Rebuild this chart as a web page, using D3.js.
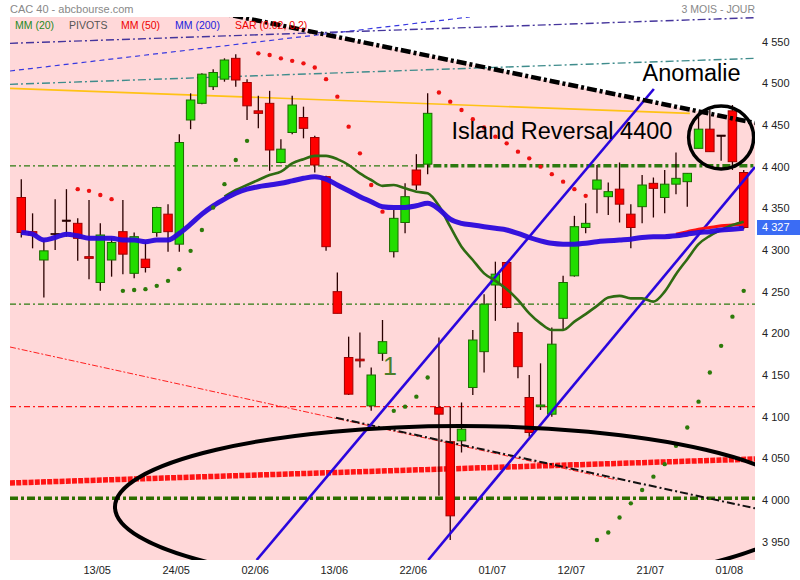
<!DOCTYPE html>
<html><head><meta charset="utf-8">
<script src="https://cdn.jsdelivr.net/npm/d3@7"></script>
<style>body{margin:0;background:#fff;} svg{display:block;font-family:"Liberation Sans",Arial,sans-serif;}</style>
</head><body><svg id="c" width="800" height="580"></svg>
<script>
// ---------- DATA ----------
const opens  = [4363,4322,4288,4320,4336,4332,4292,4261,4288,4322,4272,4289,4321,4343,4307,4456,4476,4496,4505,4530,4501,4467,4476,4405,4441,4459,4435,4388,4250,4171,4169,4113,4176,4298,4333,4396,4403,4111,4070,4071,4135,4178,4258,4285,4201,4123,4112,4103,4218,4269,4327,4373,4364,4373,4343,4352,4380,4363,4379,4382,4422,4445,4438,4467,4393];
const highs  = [4385,4344,4312,4361,4373,4338,4360,4332,4314,4360,4321,4310,4352,4355,4439,4488,4512,4517,4530,4535,4505,4485,4491,4433,4485,4472,4437,4389,4273,4196,4201,4159,4216,4348,4380,4415,4488,4195,4112,4117,4204,4247,4286,4286,4213,4150,4164,4207,4269,4341,4356,4402,4381,4405,4355,4390,4387,4396,4417,4392,4464,4468,4438,4474,4396];
const lows   = [4315,4302,4243,4300,4316,4287,4265,4251,4268,4271,4266,4273,4316,4298,4298,4445,4475,4492,4502,4496,4456,4446,4395,4404,4439,4434,4393,4299,4224,4126,4159,4107,4167,4291,4320,4372,4391,4005,3952,4057,4126,4153,4215,4230,4146,4076,4108,4100,4205,4268,4320,4344,4342,4333,4302,4332,4339,4344,4367,4352,4422,4418,4407,4396,4325];
const closes = [4321,4318,4299,4320,4336,4314,4290,4318,4309,4295,4316,4279,4351,4322,4429,4480,4511,4513,4528,4504,4473,4464,4420,4421,4474,4446,4402,4304,4224,4127,4167,4150,4190,4338,4364,4378,4464,4103,3981,4085,4192,4235,4271,4231,4160,4081,4114,4187,4261,4328,4332,4384,4370,4355,4327,4378,4374,4379,4386,4392,4445,4418,4438,4406,4327];
const sar = [null,null,null,null,null,4373,4371,4366,4361,4251,4252,4253,4257,4263,4277,4299,4324,4351,4379,4408,4431,4536,4534,4530,4527,4524,4519,4505,4484,4448,4416,4378,4346,4107,4112,4124,4147,4489,4478,4468,4457,4447,4436,4428,4418,4410,4400,4391,4382,4373,4365,3952,3961,3979,3996,4012,4028,4043,4065,4087,4118,4153,4185,4220,4251];
const mm20 = [null,null,null,null,null,null,null,null,null,null,null,null,null,null,null,null,null,null,4364,4372,4378,4384,4390,4394,4404,4409,4413,4413,4409,4402,4392,4384,4377,4378,4374,4370,4368,4353,4328,4304,4288,4272,4263,4253,4240,4224,4212,4204,4204,4214,4223,4233,4243,4245,4242,4242,4238,4250,4271,4289,4307,4317,4324,4330,4334];
const mm50 = [null,null,null,null,null,null,null,null,null,null,null,null,null,null,null,null,null,null,null,null,null,null,null,null,null,null,null,null,null,null,null,null,null,null,null,null,null,null,null,null,null,null,null,null,null,null,null,null,null,null,null,null,null,null,null,null,null,null,4319,4322,4325,4327,4329,4330,4331];
const mm200 = [4321,4319,4312,4315,4319,4317,4314,4314,4314,4312,4312,4310,4312,4312,4320,4331,4343,4353,4361,4368,4373,4376,4378,4380,4383,4386,4388,4385,4378,4371,4364,4358,4352,4351,4351,4353,4356,4349,4337,4332,4330,4328,4326,4324,4320,4315,4311,4308,4307,4307,4308,4310,4311,4312,4313,4315,4316,4316,4317,4319,4321,4322,4324,4325,4326];
const lastPrice = 4327;

const yTicks = [3950,4000,4050,4100,4150,4200,4250,4300,4350,4400,4450,4500,4550];
const xTickIdx = [7,14,21,28,35,42,49,56,63];
const xTickLabels = ["13/05","24/05","02/06","13/06","22/06","01/07","12/07","21/07","01/08"];

const pivotUpper = 4401, pivotMid = 4235, pivotLow = 4112, pivotS = 4002;
const pivotBreakIdx = 35.0;

// drawn annotations in (candle index, price) units
const resistTop   = [[-1,4636.5],[65,4452.4]];
const blueDashed  = [[-1,4514.8],[39.74,4579.6]];
const purpleLine  = [[-1,4548],[65,4578.8]];
const tealLine    = [[-1,4498.8],[65,4530]];
const orangeLine  = [[-1,4494],[59.23,4464]];
const redThin     = [[-1,4183.6],[52.76,4024]];
const blackThin   = [[27.88,4098.8],[65,3990]];
const redThick    = [[-1,4020.4],[65,4049.2]];
const channelA    = [[20.85,3928],[56.04,4493.2]];
const channelB    = [[36.05,3928],[64.99,4399.6]];
const bigEllipse  = {i:38.95, p:3991.6, di:30.65, dp:97.2};
const ring        = {i:62.0, p:4435, di:2.88, dp:37.8};
const notes = [
  {text:"Anomalie", i:55.04, p:4503, cls:"big"},
  {text:"Island Reversal 4400", i:38.12, p:4433.2, cls:"big"},
  {text:"1", i:32.04, p:4150, cls:"one"}
];

// ---------- CHART ----------
const svg = d3.select("#c");
const L=10, R=755, T=17, B=560;
const x = d3.scaleLinear().domain([-1,65]).range([L,R]);
const y = d3.scaleLinear().domain([3928,4579.6]).range([B,T]);
const fmt = n => String(n).replace(/\B(?=(\d{3})+(?!\d))/g," ");

svg.append("defs").append("clipPath").attr("id","plot")
  .append("rect").attr("x",L).attr("y",T).attr("width",R-L).attr("height",B-T);

const g = svg.append("g").attr("clip-path","url(#plot)");

// pink shaded zone below resistance line
g.append("path")
  .attr("d", d3.line()([[x(resistTop[0][0]),y(resistTop[0][1])],[x(resistTop[1][0]),y(resistTop[1][1])],[x(65),y(3928)],[x(-1),y(3928)]]) + "Z")
  .attr("fill","#ffd8d9");

const seg = (pts, stroke, w, dash, op) => g.append("line")
  .attr("x1",x(pts[0][0])).attr("y1",y(pts[0][1]))
  .attr("x2",x(pts[1][0])).attr("y2",y(pts[1][1]))
  .attr("stroke",stroke).attr("stroke-width",w)
  .attr("stroke-dasharray",dash||null).attr("opacity",op||1);

// lines in upper area
seg(blueDashed,"#3838e0",1.2,"5,4");
seg(purpleLine,"#45359c",1.4,"8,3,2,3");
seg(tealLine,"#3f8c8c",1.4,"8,3,2,3");
seg(orangeLine,"#ffc000",1.6,null,0.9);

// pivots
seg([[-1,pivotUpper],[pivotBreakIdx,pivotUpper]],"#2c7a10",1.2,"6,3,2,3");
seg([[pivotBreakIdx,pivotUpper],[65,pivotUpper]],"#2c7a10",3.5,"8,3,3,3");
seg([[-1,pivotMid],[65,pivotMid]],"#2c7a10",1.2,"6,3,2,3");
seg([[-1,pivotLow],[65,pivotLow]],"#ff1a1a",1.2,"6,3,2,3");
seg([[-1,pivotS],[65,pivotS]],"#2c6e00",3.5,"8,3,3,3");

// red/black diagonals
seg(redThin,"#ff2020",1,"6,2,2,2");
seg(redThick,"#ff1414",5.5,"5,1.2");

// candles
const idx = d3.range(opens.length);
const bw = (x(1)-x(0))*0.75;
const cg = g.append("g");
cg.selectAll("line.w").data(idx).join("line")
  .attr("x1",i=>x(i)).attr("x2",i=>x(i))
  .attr("y1",i=>y(highs[i])).attr("y2",i=>y(lows[i]))
  .attr("stroke","#2a0000").attr("stroke-width",1.3);
cg.selectAll("rect").data(idx).join("rect")
  .attr("x",i=>x(i)-bw/2).attr("width",bw)
  .attr("y",i=>y(Math.max(opens[i],closes[i])))
  .attr("height",i=>Math.max(1.5, Math.abs(y(opens[i])-y(closes[i]))))
  .attr("fill",i=>closes[i]>opens[i]?"#22dd00":(closes[i]<opens[i]?"#ff0000":"#2a0000"))
  .attr("stroke",i=>closes[i]>opens[i]?"#1b6b00":(closes[i]<opens[i]?"#a00000":"#2a0000"))
  .attr("stroke-width",i=>opens[i]===closes[i]?0.6:1);

seg(blackThin,"#111",2,"8,3,2,3");

// channel lines
seg(channelA,"#2a06dd",2.6);
seg(channelB,"#2a06dd",2.6);

// moving averages
const maLine = d3.line().defined(d=>d[1]!=null).x(d=>x(d[0])).y(d=>y(d[1])).curve(d3.curveMonotoneX);
g.append("path").attr("d",maLine(mm50.map((v,i)=>[i,v]))).attr("fill","none").attr("stroke","#ff1010").attr("stroke-width",3);
g.append("path").attr("d",maLine(mm20.map((v,i)=>[i,v]))).attr("fill","none").attr("stroke","#2f6b12").attr("stroke-width",2.6);
g.append("path").attr("d",maLine(mm200.map((v,i)=>[i,v]))).attr("fill","none").attr("stroke","#2b08dc").attr("stroke-width",5).attr("stroke-linejoin","round").attr("opacity",0.95);

// SAR
g.selectAll("circle.sar").data(idx.filter(i=>sar[i]!=null)).join("circle")
  .attr("cx",i=>x(i)).attr("cy",i=>y(sar[i])).attr("r",2.2)
  .attr("fill",i=>sar[i]>closes[i]?"#ee1111":"#2d7a0a");

// resistance line on top
seg(resistTop,"#000",4.5,"10,3,3,3");

// ellipse & ring
g.append("ellipse").attr("cx",x(bigEllipse.i)).attr("cy",y(bigEllipse.p))
  .attr("rx",x(bigEllipse.i+bigEllipse.di)-x(bigEllipse.i))
  .attr("ry",y(bigEllipse.p-bigEllipse.dp)-y(bigEllipse.p))
  .attr("fill","none").attr("stroke","#000").attr("stroke-width",4);
g.append("ellipse").attr("cx",x(ring.i)).attr("cy",y(ring.p))
  .attr("rx",x(ring.i+ring.di)-x(ring.i))
  .attr("ry",y(ring.p-ring.dp)-y(ring.p))
  .attr("fill","none").attr("stroke","#000").attr("stroke-width",3.5);

// notes
svg.selectAll("text.note").data(notes).join("text")
  .attr("x",d=>x(d.i)).attr("y",d=>y(d.p))
  .attr("font-size",d=>d.cls==="one"?25:23.5)
  .attr("fill",d=>d.cls==="one"?"#4a7f2a":"#000")
  .text(d=>d.text);

// axes
const ya = svg.append("g").attr("transform",`translate(${R},0)`)
  .call(d3.axisRight(y).tickValues(yTicks).tickSize(0).tickPadding(7).tickFormat(fmt));
ya.select(".domain").remove();
ya.selectAll("text").attr("font-size",11).attr("fill","#222").attr("font-family","Liberation Sans, Arial, sans-serif");

const labelShift = -0.32;
const xa = svg.append("g").attr("transform",`translate(0,${B})`)
  .call(d3.axisBottom(x).tickValues(xTickIdx.map(v=>v+labelShift)).tickSize(0).tickPadding(6)
    .tickFormat((d,k)=>xTickLabels[k]));
xa.select(".domain").remove();
xa.selectAll("text").attr("font-size",11).attr("fill","#222").attr("font-family","Liberation Sans, Arial, sans-serif");

// last price tag
svg.append("rect").attr("x",757).attr("y",y(lastPrice)-7.5).attr("width",43).attr("height",15).attr("fill","#3b6cf4");
svg.append("text").attr("x",762).attr("y",y(lastPrice)).attr("dy","0.34em").attr("font-size",11).attr("fill","#fff").text(fmt(lastPrice));

// header
svg.append("text").attr("x",10).attr("y",13).attr("font-size",11).attr("fill","#888").text("CAC 40 - abcbourse.com");
svg.append("text").attr("x",755).attr("y",13).attr("text-anchor","end").attr("font-size",10.5).attr("fill","#888").text("3 MOIS - JOUR");

const legend = [
  {t:"MM (20)", c:"#1f8a1f", x:15},
  {t:"PIVOTS", c:"#555", x:69},
  {t:"MM (50)", c:"#ee0000", x:121},
  {t:"MM (200)", c:"#2222dd", x:175},
  {t:"SAR (0.02, 0.2)", c:"#ee0000", x:235}
];
svg.selectAll("text.leg").data(legend).join("text")
  .attr("x",d=>d.x).attr("y",29).attr("font-size",10.5).attr("fill",d=>d.c).text(d=>d.t);
</script></body></html>
